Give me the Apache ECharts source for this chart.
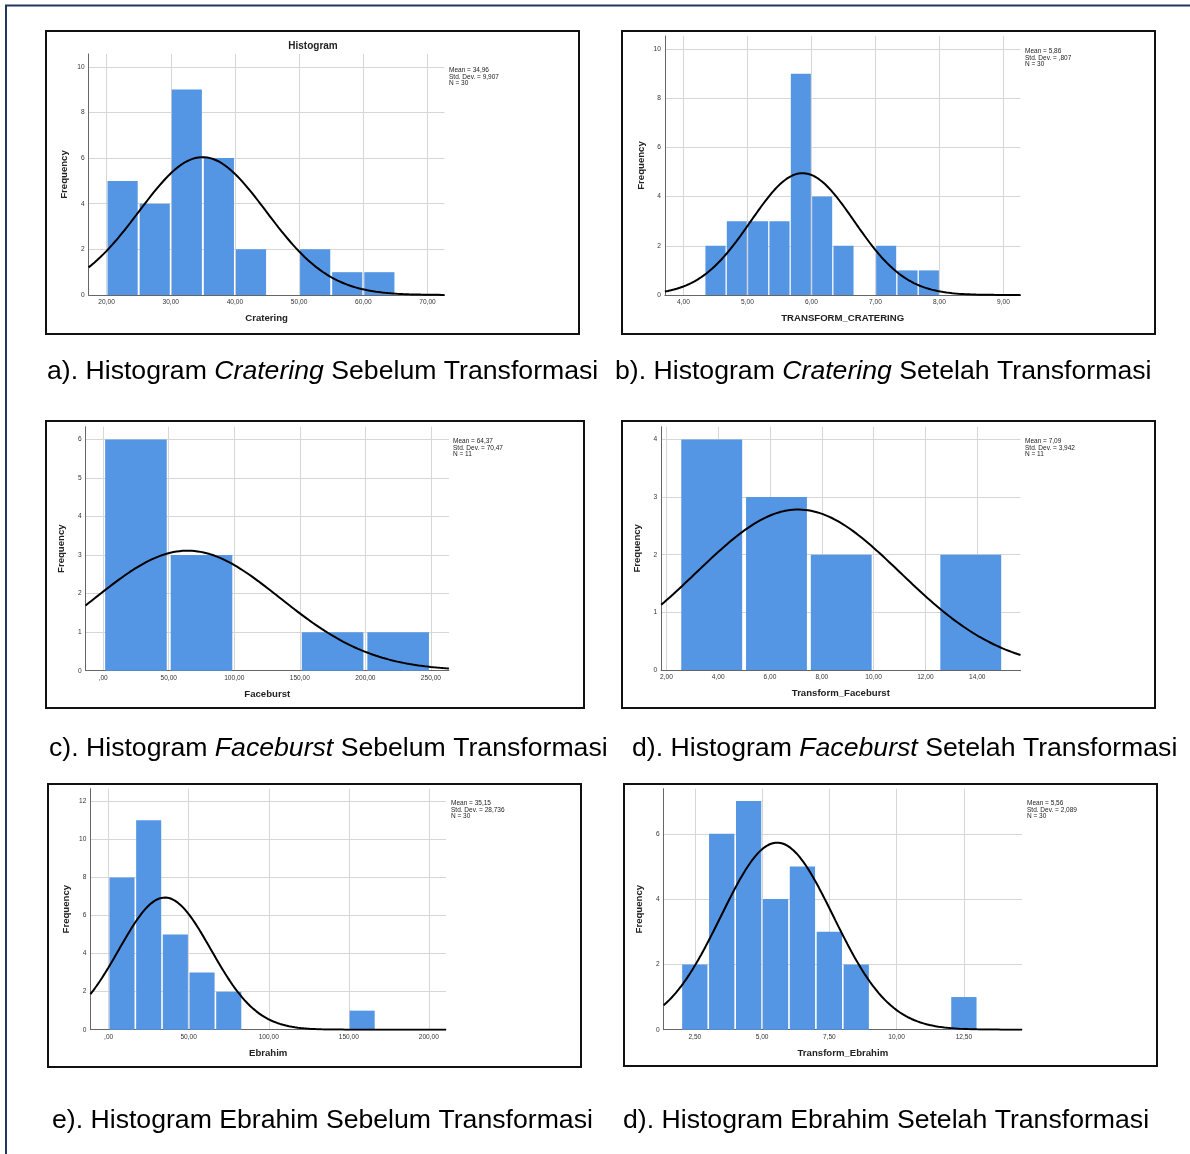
<!DOCTYPE html>
<html>
<head>
<meta charset="utf-8">
<script src="https://cdn.jsdelivr.net/npm/echarts@6/dist/echarts.min.js"></script>
<style>
  html, body { margin: 0; padding: 0; background: #ffffff; }
  #chart { width: 1190px; height: 1154px; }
</style>
</head>
<body>
<div id="chart"></div>
<script>
// ---- Cratering (before transformation) ----
const crateringEdges  = [20, 25, 30, 35, 40, 45, 50, 55, 60, 65];
const crateringCounts = [5, 4, 9, 6, 2, 0, 2, 1, 1];
const crateringStats  = [34.96, 9.907, 30];          // mean, std. dev., N
const crateringXTicks = [20, 30, 40, 50, 60, 70];
const crateringYTicks = [0, 2, 4, 6, 8, 10];

// ---- TRANSFORM_CRATERING ----
const trCrateringEdges  = [4.333, 4.667, 5, 5.333, 5.667, 6, 6.333, 6.667, 7, 7.333, 7.667, 8];
const trCrateringCounts = [2, 3, 3, 3, 9, 4, 2, 0, 2, 1, 1];
const trCrateringStats  = [5.86, 0.807, 30];
const trCrateringXTicks = [4, 5, 6, 7, 8, 9];
const trCrateringYTicks = [0, 2, 4, 6, 8, 10];

// ---- Faceburst ----
const faceburstEdges  = [0, 50, 100, 150, 200, 250];
const faceburstCounts = [6, 3, 0, 1, 1];
const faceburstStats  = [64.37, 70.47, 11];
const faceburstXTicks = [0, 50, 100, 150, 200, 250];
const faceburstYTicks = [0, 1, 2, 3, 4, 5, 6];

// ---- Transform_Faceburst ----
const trFaceburstEdges  = [2.5, 5, 7.5, 10, 12.5, 15];
const trFaceburstCounts = [4, 3, 2, 0, 2];
const trFaceburstStats  = [7.09, 3.942, 11];
const trFaceburstXTicks = [2, 4, 6, 8, 10, 12, 14];
const trFaceburstYTicks = [0, 1, 2, 3, 4];

// ---- Ebrahim ----
const ebrahimEdges  = [0, 16.667, 33.333, 50, 66.667, 83.333, 100, 116.667, 133.333, 150, 166.667];
const ebrahimCounts = [8, 11, 5, 3, 2, 0, 0, 0, 0, 1];
const ebrahimStats  = [35.15, 28.736, 30];
const ebrahimXTicks = [0, 50, 100, 150, 200];
const ebrahimYTicks = [0, 2, 4, 6, 8, 10, 12];

// ---- Transform_Ebrahim ----
const trEbrahimEdges  = [2, 3, 4, 5, 6, 7, 8, 9, 10, 11, 12, 13];
const trEbrahimCounts = [2, 6, 7, 4, 5, 3, 2, 0, 0, 0, 1];
const trEbrahimStats  = [5.56, 2.089, 30];
const trEbrahimXTicks = [2.5, 5, 7.5, 10, 12.5];
const trEbrahimYTicks = [0, 2, 4, 6];

// ---- panel captions ----
const captions = [
  ['a). Histogram ', 'Cratering', ' Sebelum Transformasi'],
  ['b). Histogram ', 'Cratering', ' Setelah Transformasi'],
  ['c). Histogram ', 'Faceburst', ' Sebelum Transformasi'],
  ['d). Histogram ', 'Faceburst', ' Setelah Transformasi'],
  ['e). Histogram Ebrahim Sebelum Transformasi', '', ''],
  ['d). Histogram Ebrahim Setelah Transformasi', '', '']
];
const axisNames = ['Cratering', 'TRANSFORM_CRATERING', 'Faceburst', 'Transform_Faceburst', 'Ebrahim', 'Transform_Ebrahim'];

const FONT = "'Liberation Sans', Arial, Helvetica, sans-serif";
const BAR_COLOR = '#5596e4';
const GRID_COLOR = '#d6d6d6';
const AXIS_COLOR = '#666666';
const CAPTION_SIZE = 26.65;

// Layout of each panel: plot rectangle, axis extents, outer frame, caption anchor
const layout = [
  { grid: [88.6, 54, 355.9, 241],   x: [17.2, 72.65],  y: [0, 10.56], frame: [46, 31, 533, 303],  stats: [449, 67.5],  cap: [47, 372],  title: true },
  { grid: [664.9, 36, 355.6, 259],  x: [3.71, 9.265],  y: [0, 10.53], frame: [622, 31, 533, 303], stats: [1025, 48.5], cap: [615, 372] },
  { grid: [85.6, 426.7, 363.3, 244], x: [-13.4, 263.7], y: [0, 6.33], frame: [46, 421, 538, 287], stats: [453, 438.5], cap: [49, 748.5] },
  { grid: [661.2, 426.7, 359.3, 243.3], x: [1.8, 15.67], y: [0, 4.22], frame: [622, 421, 533, 287], stats: [1025, 438.5], cap: [632, 748.5] },
  { grid: [90.4, 788.7, 355.6, 241], x: [-11.4, 210.7], y: [0, 12.66], frame: [48, 784, 533, 283], stats: [451, 800.5], cap: [52, 1120.5] },
  { grid: [663.7, 788.7, 358.3, 241], x: [1.344, 14.66], y: [0, 7.38], frame: [624, 784, 533, 282], stats: [1027, 800.5], cap: [623, 1120.5] }
];

const panels = [
  { edges: crateringEdges,   counts: crateringCounts,   stats: crateringStats,   xt: crateringXTicks,   yt: crateringYTicks },
  { edges: trCrateringEdges, counts: trCrateringCounts, stats: trCrateringStats, xt: trCrateringXTicks, yt: trCrateringYTicks },
  { edges: faceburstEdges,   counts: faceburstCounts,   stats: faceburstStats,   xt: faceburstXTicks,   yt: faceburstYTicks },
  { edges: trFaceburstEdges, counts: trFaceburstCounts, stats: trFaceburstStats, xt: trFaceburstXTicks, yt: trFaceburstYTicks },
  { edges: ebrahimEdges,     counts: ebrahimCounts,     stats: ebrahimStats,     xt: ebrahimXTicks,     yt: ebrahimYTicks },
  { edges: trEbrahimEdges,   counts: trEbrahimCounts,   stats: trEbrahimStats,   xt: trEbrahimXTicks,   yt: trEbrahimYTicks }
];

// SPSS-style decimal comma, no leading zero
function spssNum(v, digits) {
  let s = digits == null ? String(v) : v.toFixed(digits);
  s = s.replace('.', ',');
  if (s.startsWith('0,')) s = s.slice(1);
  return s;
}

// Fitted normal curve scaled to counts: N * binWidth * pdf(x)
function normalCurve(stats, binWidth, xMin, xMax) {
  const [mean, sd, n] = stats;
  const k = n * binWidth / (sd * Math.sqrt(2 * Math.PI));
  const pts = [];
  const steps = 240;
  for (let i = 0; i <= steps; i++) {
    const x = xMin + (xMax - xMin) * i / steps;
    pts.push([x, k * Math.exp(-0.5 * Math.pow((x - mean) / sd, 2))]);
  }
  return pts;
}

const grids = [], xAxes = [], yAxes = [], series = [], graphics = [];

panels.forEach((p, i) => {
  const L = layout[i];
  grids.push({ left: L.grid[0], top: L.grid[1], width: L.grid[2], height: L.grid[3], containLabel: false });

  xAxes.push({
    type: 'value', gridIndex: i, min: L.x[0], max: L.x[1],
    name: axisNames[i], nameLocation: 'middle', nameGap: 18.5,
    nameTextStyle: { fontFamily: FONT, fontSize: 9.6, fontWeight: 'bold', color: '#222' },
    axisLine: { show: true, onZero: false, lineStyle: { color: AXIS_COLOR, width: 1 } },
    axisTick: { show: false, customValues: p.xt },
    axisLabel: { customValues: p.xt, fontFamily: FONT, fontSize: 6.6, color: '#333', margin: 4,
                 formatter: v => spssNum(v, 2) },
    splitLine: { show: true, lineStyle: { color: GRID_COLOR, width: 1 } }
  });
  yAxes.push({
    type: 'value', gridIndex: i, min: L.y[0], max: L.y[1],
    name: 'Frequency', nameLocation: 'middle', nameGap: 19,
    nameTextStyle: { fontFamily: FONT, fontSize: 9.6, fontWeight: 'bold', color: '#222' },
    axisLine: { show: true, onZero: false, lineStyle: { color: AXIS_COLOR, width: 1 } },
    axisTick: { show: false, customValues: p.yt },
    axisLabel: { customValues: p.yt, fontFamily: FONT, fontSize: 6.6, color: '#333', margin: 4 },
    splitLine: { show: true, lineStyle: { color: GRID_COLOR, width: 1 } }
  });

  // histogram bins [start, end, count]
  const bins = p.counts.map((c, j) => [p.edges[j], p.edges[j + 1], c]).filter(b => b[2] > 0);
  series.push({
    type: 'custom', xAxisIndex: i, yAxisIndex: i, z: 2,
    encode: { x: [0, 1], y: 2 },
    data: bins,
    renderItem: (params, api) => {
      const top = api.coord([api.value(0), api.value(2)]);
      const base = api.coord([api.value(1), 0]);
      const w = base[0] - top[0];
      const inset = w * 0.03;
      return {
        type: 'rect',
        shape: { x: top[0] + inset, y: top[1], width: w - 2 * inset, height: base[1] - top[1] },
        style: { fill: BAR_COLOR }
      };
    }
  });

  const binWidth = p.edges[1] - p.edges[0];
  series.push({
    type: 'line', xAxisIndex: i, yAxisIndex: i, z: 3,
    data: normalCurve(p.stats, binWidth, L.x[0], L.x[1]),
    showSymbol: false, smooth: false, silent: true,
    lineStyle: { color: '#000', width: 2 }
  });

  // panel frame
  graphics.push({
    type: 'rect', silent: true, z: 10,
    shape: { x: L.frame[0], y: L.frame[1], width: L.frame[2], height: L.frame[3] },
    style: { fill: 'none', stroke: '#111', lineWidth: 2 }
  });

  // statistics block
  const [m, sd, n] = p.stats;
  graphics.push({
    type: 'text', silent: true, z: 10, x: L.stats[0], y: L.stats[1],
    style: {
      text: 'Mean = ' + spssNum(m) + '\nStd. Dev. = ' + spssNum(sd) + '\nN = ' + n,
      fontFamily: FONT, fontSize: 6.5, lineHeight: 6.3, fill: '#222', verticalAlign: 'top', align: 'left'
    }
  });

  // caption below the panel
  const c = captions[i];
  graphics.push({
    type: 'text', silent: true, z: 10, x: L.cap[0], y: L.cap[1],
    style: {
      text: '{n|' + c[0] + '}' + (c[1] ? '{i|' + c[1] + '}{n|' + c[2] + '}' : ''),
      rich: {
        n: { fontFamily: FONT, fontSize: CAPTION_SIZE, fill: '#000' },
        i: { fontFamily: FONT, fontSize: CAPTION_SIZE, fontStyle: 'italic', fill: '#000' }
      },
      verticalAlign: 'middle', align: 'left'
    }
  });

  if (L.title) {
    graphics.push({
      type: 'text', silent: true, z: 10, x: 313, y: 46,
      style: { text: 'Histogram', fontFamily: FONT, fontSize: 10, fontWeight: 'bold', fill: '#222',
               align: 'center', verticalAlign: 'middle' }
    });
  }
});

// page border (top and left rules)
graphics.push({ type: 'line', silent: true, z: 10, shape: { x1: 5, y1: 5.5, x2: 1190, y2: 5.5 },
                style: { stroke: '#1f3763', lineWidth: 2 } });
graphics.push({ type: 'line', silent: true, z: 10, shape: { x1: 6, y1: 5, x2: 6, y2: 1154 },
                style: { stroke: '#1f3763', lineWidth: 2 } });

const chart = echarts.init(document.getElementById('chart'), null, { renderer: 'canvas' });
chart.setOption({
  animation: false,
  backgroundColor: '#ffffff',
  grid: grids,
  xAxis: xAxes,
  yAxis: yAxes,
  series: series,
  graphic: graphics
});
</script>
</body>
</html>
